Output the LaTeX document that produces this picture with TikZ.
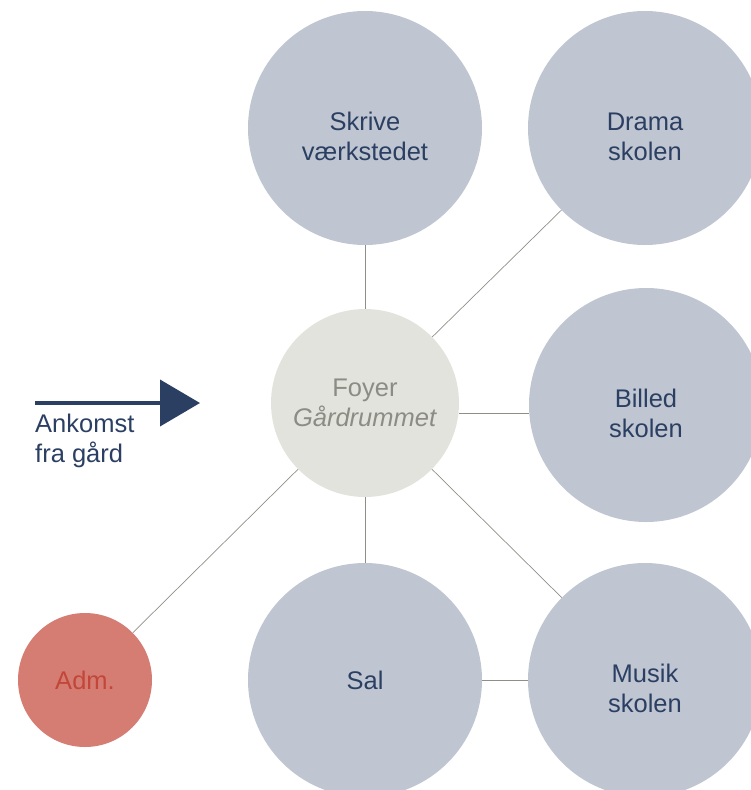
\documentclass[tikz,border=0pt]{standalone}
\usepackage{fontspec}
\setmainfont{Liberation Sans}
\usetikzlibrary{arrows.meta}
\definecolor{roomgray}{HTML}{C0C6D1}
\definecolor{roomtext}{HTML}{2B3F63}
\definecolor{hallfill}{HTML}{E3E3DE}
\definecolor{halltext}{HTML}{8C8C85}
\definecolor{admfill}{HTML}{D57D72}
\definecolor{admtext}{HTML}{C2463A}
\definecolor{linkgray}{HTML}{8F8F88}
\newcommand{\lowline}{\rule{0pt}{35pt}}
\tikzset{
  room/.style={circle, fill=roomgray, text=roomtext, minimum size=234pt, inner sep=0pt, align=center},
  hall/.style={circle, fill=hallfill, text=halltext, minimum size=188pt, inner sep=0pt, align=center},
  office/.style={circle, fill=admfill, text=admtext, minimum size=134pt, inner sep=0pt, align=center},
  link/.style={draw=linkgray, line width=0.7pt},
  arrive/.style={draw=roomtext, line width=4pt, -{Triangle[length=40pt,width=46pt]}}
}

\begin{document}
\begin{tikzpicture}[x=1pt, y=-1pt, font=\fontsize{25.5}{30}\selectfont]
  \useasboundingbox (0,0) rectangle (751,790);
  \clip (0,0) rectangle (751,790);
  \node[hall] (foyer) at (365,403) {Foyer\\\textit{Gårdrummet}};
  \node[room] (skrive) at (365,128) {\lowline Skrive\\værkstedet};
  \node[room] (drama) at (645,128) {\lowline Drama\\skolen};
  \node[room] (billed) at (646,405) {\lowline Billed\\skolen};
  \node[room] (sal) at (365,680) {Sal};
  \node[room] (musik) at (645,680) {\lowline Musik\\skolen};
  \node[office] (adm) at (85,680) {Adm.};
  % forbindelser
  \draw[link] (foyer) -- (skrive);
  \draw[link] (foyer) -- (drama);
  \draw[link] ([yshift=-10pt]foyer.east) -- ([yshift=-8pt]billed.west);
  \draw[link] (foyer) -- (sal);
  \draw[link] (foyer) -- (musik);
  \draw[link] (foyer) -- (adm);
  \draw[link] (sal) -- (musik);
  % ankomst
  \coordinate (in0) at (35,403);
  \coordinate (in1) at (200,403);
  \draw[arrive] (in0) -- (in1);
  \node[anchor=north west, inner sep=0pt, align=left, text=roomtext] (ankomst) at (35,414) {Ankomst\\fra gård};
\end{tikzpicture}
\end{document}
